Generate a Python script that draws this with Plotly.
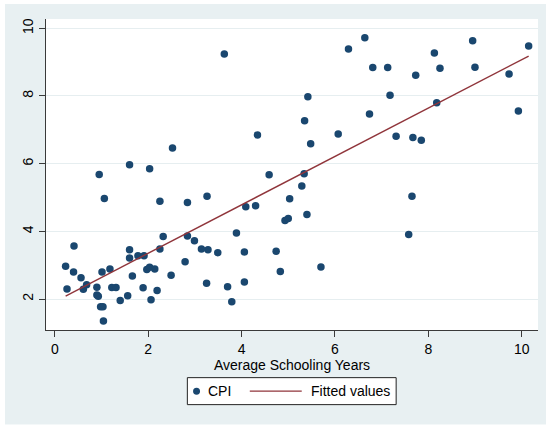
import numpy as np
import plotly.graph_objects as go

# Average schooling years (x) and CPI (y) for each country
schooling = [
    0.95, 1.60, 2.03, 2.52, 3.63, 6.29, 6.64, 6.81, 5.42, 5.35,
    6.74, 4.34, 6.07, 5.48, 4.59, 5.34, 7.13, 8.95, 10.15, 8.13,
    8.25, 9.00, 7.73, 9.73, 7.18, 8.18, 9.93, 7.31, 7.67, 7.85,
    7.65, 7.58, 3.26, 5.29, 5.03, 4.09, 4.30, 4.93, 5.00, 5.40,
    3.89, 3.28, 3.49, 4.06, 4.74, 5.70, 4.83, 3.25, 3.70, 4.06,
    3.79, 1.06, 2.25, 2.84, 0.41, 2.32, 2.84, 2.99, 3.14, 1.60,
    2.25, 1.60, 1.78, 1.91, 0.23, 0.40, 0.56, 1.01, 1.18, 1.97,
    2.03, 2.14, 1.66, 2.49, 2.79, 0.26, 0.61, 0.68, 0.90, 0.90,
    0.93, 0.98, 1.03, 1.04, 1.22, 1.31, 1.40, 1.56, 1.89, 2.06,
    2.19,
]
cpi = [
    5.68, 5.97, 5.85, 6.46, 9.24, 9.39, 9.72, 8.84, 7.98, 7.27,
    7.47, 6.85, 6.88, 6.59, 5.67, 5.70, 8.84, 9.63, 9.48, 9.27,
    8.82, 8.85, 8.61, 8.65, 8.02, 7.80, 7.56, 6.81, 6.77, 6.69,
    5.04, 3.91, 5.04, 5.34, 4.96, 4.73, 4.76, 4.32, 4.38, 4.50,
    3.95, 3.46, 3.37, 3.39, 3.41, 2.95, 2.81, 2.47, 2.36, 2.50,
    1.92, 4.97, 4.89, 4.85, 3.57, 3.85, 3.86, 3.72, 3.48, 3.46,
    3.48, 3.21, 3.28, 3.28, 2.97, 2.80, 2.63, 2.80, 2.89, 2.87,
    2.94, 2.89, 2.68, 2.70, 3.10, 2.30, 2.29, 2.42, 2.35, 2.12,
    2.08, 1.77, 1.77, 1.35, 2.34, 2.34, 1.96, 2.10, 2.33, 1.98,
    2.25,
]

x_ticks = [0, 2, 4, 6, 8, 10]
y_ticks = [2, 4, 6, 8, 10]

# Linear fit (OLS) of CPI on schooling years
slope, intercept = np.polyfit(schooling, cpi, 1)
fit_x = [min(schooling), max(schooling)]
fit_y = [intercept + slope * v for v in fit_x]

NAVY = "#1a476f"
MAROON = "#90353b"
REGION = "#e8f0f2"
GRID = "#e6eef0"
FONT = "Liberation Sans, Arial, sans-serif"

W, H = 546, 426
ML, MR, MT, MB = 46, 7.5, 19, 95.7
PW, PH = W - ML - MR, H - MT - MB


def px(xpix):
    """Horizontal pixel position -> paper coordinate."""
    return (xpix - ML) / PW


def py(ypix):
    """Vertical pixel position (from top) -> paper coordinate."""
    return (H - MB - ypix) / PH


fig = go.Figure()
fig.add_trace(go.Scatter(
    x=schooling, y=cpi, mode="markers", name="CPI",
    marker=dict(color=NAVY, size=7.5, line=dict(width=0)),
    showlegend=False,
))
fig.add_trace(go.Scatter(
    x=fit_x, y=fit_y, mode="lines", name="Fitted values",
    line=dict(color=MAROON, width=1.4),
    showlegend=False,
))

# thin white margin around the graph region
shapes = [
    dict(type="rect", xref="paper", yref="paper", line=dict(width=0),
         fillcolor="white", layer="below", x0=px(-20), x1=px(5), y0=py(450), y1=py(-20)),
    dict(type="rect", xref="paper", yref="paper", line=dict(width=0),
         fillcolor="white", layer="below", x0=px(-20), x1=px(560), y0=py(4), y1=py(-20)),
    dict(type="rect", xref="paper", yref="paper", line=dict(width=0),
         fillcolor="white", layer="below", x0=px(-20), x1=px(560), y0=py(450), y1=py(425)),
]

# legend box with key entries
leg_y = 391.5
shapes += [
    dict(type="rect", xref="paper", yref="paper", fillcolor="white",
         line=dict(color="#222222", width=1),
         x0=px(187.5), x1=px(396.5), y0=py(405), y1=py(378)),
    dict(type="circle", xref="paper", yref="paper", fillcolor=NAVY,
         line=dict(width=0),
         x0=px(193.2), x1=px(200.2), y0=py(leg_y + 3.5), y1=py(leg_y - 3.5)),
    dict(type="line", xref="paper", yref="paper",
         line=dict(color=MAROON, width=1.4),
         x0=px(250), x1=px(302), y0=py(leg_y), y1=py(leg_y)),
]
annotations = [
    dict(text="CPI", xref="paper", yref="paper", x=px(206), y=py(leg_y),
         xanchor="left", yanchor="middle", showarrow=False,
         font=dict(size=14, family=FONT, color="#000000")),
    dict(text="Fitted values", xref="paper", yref="paper", x=px(309), y=py(leg_y),
         xanchor="left", yanchor="middle", showarrow=False,
         font=dict(size=14, family=FONT, color="#000000")),
]

fig.update_layout(
    width=W, height=H,
    margin=dict(l=ML, r=MR, t=MT, b=MB),
    paper_bgcolor=REGION,
    plot_bgcolor="white",
    font=dict(family=FONT, size=14, color="#000000"),
    shapes=shapes,
    annotations=annotations,
    showlegend=False,
)
fig.update_xaxes(
    range=[-0.19, 10.35], tickvals=x_ticks, ticktext=[str(v) for v in x_ticks],
    showgrid=False, zeroline=False,
    showline=True, linecolor="#3a3a3a", linewidth=1.2,
    ticks="outside", ticklen=6, tickcolor="#3a3a3a", tickwidth=1.2,
    tickfont=dict(size=14),
    title=dict(text="Average Schooling Years", font=dict(size=14), standoff=2),
)
fig.update_yaxes(
    range=[1.085, 10.275], tickvals=y_ticks, ticktext=[str(v) for v in y_ticks],
    showgrid=True, gridcolor=GRID, gridwidth=1.2, zeroline=False,
    showline=True, linecolor="#3a3a3a", linewidth=1.2,
    ticks="outside", ticklen=6, tickcolor="#3a3a3a", tickwidth=1.2,
    tickangle=-90, tickfont=dict(size=14),
)

fig.write_html("out.html")
